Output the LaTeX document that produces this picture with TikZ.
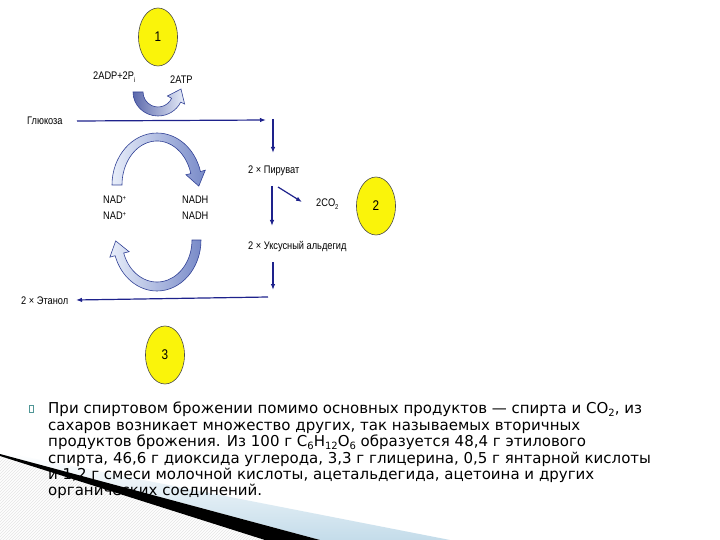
\documentclass[tikz,border=0pt]{standalone}
\usepackage{fontspec}
\setmainfont{DejaVu Sans}
\newfontfamily\labfont{Liberation Sans}[FakeStretch=0.84]
\usetikzlibrary{shapes.geometric,arrows.meta,patterns}
\definecolor{navy}{RGB}{30,34,140}
\definecolor{ellyel}{RGB}{250,244,10}
\definecolor{arrlight}{RGB}{232,238,250}
\definecolor{arrdark}{RGB}{120,138,200}
\definecolor{arredge}{RGB}{50,66,150}
\definecolor{swblue}{RGB}{196,220,234}
\definecolor{bultel}{RGB}{80,150,150}
\newcommand\sbx[1]{\raisebox{-3.5pt}{\fontsize{10}{10}\selectfont #1}}
\newcommand\lsb[1]{\raisebox{-2.5pt}{\fontsize{7}{7}\selectfont #1}}
\newcommand\lsp[1]{\raisebox{3pt}{\fontsize{7}{7}\selectfont #1}}
\begin{document}
\begin{tikzpicture}[x=1pt,y=-1pt,
  numell/.style={ellipse,draw=black!70,line width=0.6pt,fill=ellyel,minimum width=39pt,minimum height=58pt,inner sep=0pt,font=\labfont\fontsize{14}{14}\selectfont},
  lab/.style={inner sep=0pt,anchor=west,font=\labfont\fontsize{11}{12}\selectfont},
  body/.style={inner sep=0pt,anchor=base west,font=\fontsize{15}{16.5}\selectfont},
  flow/.style={draw=navy,line width=1.2pt,-{Latex[length=6pt,width=4.5pt]}},
  ribbon/.style={draw=arredge,line width=0.6pt,left color=arrlight,right color=arrdark}]
\useasboundingbox (0,0) rectangle (720,540);
\fill[white] (0,0) rectangle (720,540);

% bottom-left swoosh decoration
\shade[top color=white,bottom color=swblue] (0,452) -- (450,540) -- (320,540) -- (0,454) -- cycle;
\fill[pattern=north east lines,pattern color=black!10] (0,456) -- (265,540) -- (0,540) -- cycle;
\fill[black] (0,454) -- (320,540) -- (265,540) -- (0,456) -- cycle;

% numbered ellipses
\node[numell] (e1) at (158,37) {1};
\node[numell] (e2) at (376,206) {2};
\node[numell] (e3) at (165,355) {3};

% labels
\node[lab] (adp) at (93,77) {2ADP+2P\lsb{i}};
\node[lab] (atp) at (170,80) {2ATP};
\node[lab] (glu) at (27,121) {Глюкоза};
\node[lab] (nad1) at (103,200) {NAD\lsp{+}};
\node[lab] (nad2) at (103,216) {NAD\lsp{+}};
\node[lab] (nadh1) at (182,200) {NADH};
\node[lab] (nadh2) at (182,216) {NADH};
\node[lab] (pyr) at (248,171) {2 × Пируват};
\node[lab] (co2) at (316,204) {2CO\lsb{2}};
\node[lab] (ald) at (248,247) {2 × Уксусный альдегид};
\node[lab] (eth) at (21,301) {2 × Этанол};

% straight flow arrows
\coordinate (g1) at (77,121);
\coordinate (g2) at (266,120);
\coordinate (v1a) at (273,119);
\coordinate (v1b) at (273,153);
\coordinate (v2a) at (272,186);
\coordinate (v2b) at (272,226);
\coordinate (d1a) at (278,187);
\coordinate (d1b) at (302,202);
\coordinate (v3a) at (273,262);
\coordinate (v3b) at (273,290);
\coordinate (b1) at (268,297);
\coordinate (b2) at (76,300);
\draw[flow] (g1) -- (g2);
\draw[flow] (v1a) -- (v1b);
\draw[flow] (v2a) -- (v2b);
\draw[flow] (d1a) -- (d1b);
\draw[flow] (v3a) -- (v3b);
\draw[flow] (b1) -- (b2);

% small curved arrow (ATP)
\draw[draw=arredge,line width=0.6pt,left color=arredge!80,right color=arrlight]
  (133,92) arc[start angle=180,end angle=25,x radius=25,y radius=24]
  -- (184.6,104) -- (181,89) -- (167.4,96) -- (171.6,98.3)
  arc[start angle=25,end angle=180,x radius=15,y radius=15] -- cycle;

% big top ribbon arrow (NAD+ -> NADH)
\draw[ribbon]
  (112,185) arc[start angle=180,end angle=345,x radius=45,y radius=52]
  -- (205.3,170.2) -- (198.8,186.1) -- (185.9,174.7) -- (190.8,173.6)
  arc[start angle=345,end angle=180,x radius=35,y radius=44] -- cycle;

% big bottom ribbon arrow (NADH -> NAD+)
\draw[ribbon]
  (201,240) arc[start angle=0,end angle=162,x radius=44,y radius=51]
  -- (109.9,257.1) -- (115.7,240.9) -- (129.1,251.7) -- (123.7,253)
  arc[start angle=162,end angle=0,x radius=35,y radius=42] -- cycle;

% bullet
\node[draw=bultel,line width=0.5pt,minimum width=4.5pt,minimum height=7pt,inner sep=0pt] (bul) at (31,409) {};

% body text
\node[body] (t1) at (48,413) {При спиртовом брожении помимо основных продуктов — спирта и CO\sbx{2}, из};
\node[body] (t2) at (48,430) {сахаров возникает множество других, так называемых вторичных};
\node[body] (t3) at (48,446) {продуктов брожения. Из 100 г C\sbx{6}H\sbx{12}O\sbx{6} образуется 48,4 г этилового};
\node[body] (t4) at (48,463) {спирта, 46,6 г диоксида углерода, 3,3 г глицерина, 0,5 г янтарной кислоты};
\node[body] (t5) at (48,479) {и 1,2 г смеси молочной кислоты, ацетальдегида, ацетоина и других};
\node[body] (t6) at (48,495) {органических соединений.};
\end{tikzpicture}
\end{document}
